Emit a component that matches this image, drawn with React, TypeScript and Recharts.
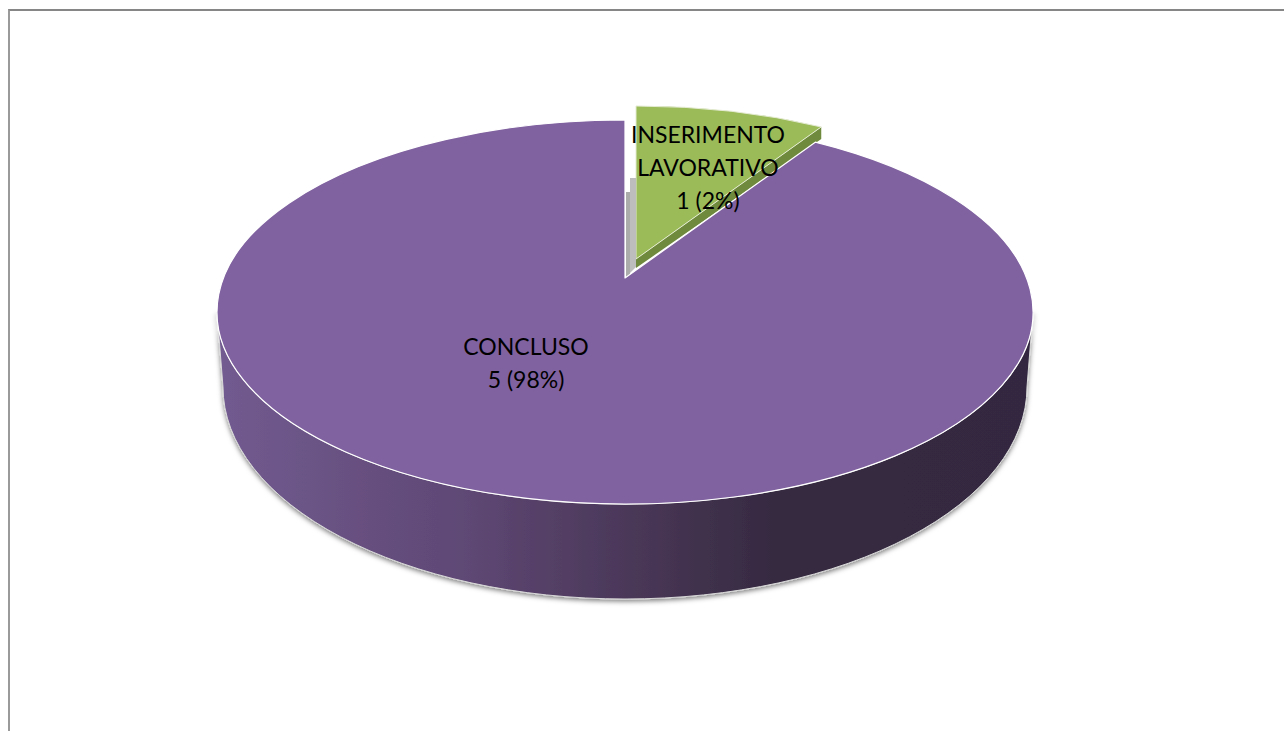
import React from "react";
import { PieChart, Pie } from "recharts";

const categories = ["INSERIMENTO LAVORATIVO", "CONCLUSO"];
const sliceShares = [7.5, 92.5];
const valueTexts = ["1 (2%)", "5 (98%)"];
const labelLines = [["INSERIMENTO", "LAVORATIVO", "1 (2%)"], ["CONCLUSO", "5 (98%)"]];

const data = categories.map((name, i) => ({ name, value: sliceShares[i], text: valueTexts[i], lines: labelLines[i] }));

const W = 1284, H = 731;
const CX = 625, CY = 312, R = 408;
const RY = 192;
const RAD = Math.PI / 180;
const APEX_UP = 34;
const EXPLODE_GAP_DEG = 0.8;
const FONT = "Lato, 'Open Sans', sans-serif";

function ellipsePt(cx: number, cy: number, a: number) {
  return [cx + R * Math.cos(a * RAD), cy - RY * Math.sin(a * RAD)];
}

function SliceShape(props: any) {
  const { cx, cy, startAngle, endAngle, payload } = props;
  const isGreen = (payload?.name ?? props.name) === categories[0];
  if (isGreen) {
    const ox = cx + 11, oy = cy - 14;
    const [x1, y1] = ellipsePt(ox, oy, startAngle);
    const [x2, y2] = ellipsePt(ox, oy, endAngle);
    const ax = ox, ay = cy - 53;
    return (
      <g>
        <path d={`M${x2},${y2} L${x2},${y2 + 12} L${ax},${ay + 9} L${ax},${ay} Z`} fill="#6F8A3D" />
        <path
          d={`M${ax},${ay} L${x1},${y1} A${R},${RY} 0 0 1 ${x2},${y2} Z`}
          fill="#9BBB59"
          stroke="#E4EBD2"
          strokeWidth={1}
        />
      </g>
    );
  }
  const [x1, y1] = ellipsePt(cx, cy, startAngle - EXPLODE_GAP_DEG);
  const [x2, y2] = ellipsePt(cx, cy, endAngle);
  const ax = cx, ay = cy - APEX_UP;
  return (
    <g>
      <path
        d={`M${cx - R},${cy} A${R},${RY} 0 0 0 ${cx + R},${cy} L${cx + 402},${cy + 75} A402,212 0 0 1 ${cx - 402},${cy + 75} Z`}
        fill="url(#wallGrad)"
        stroke="#D8D8D8"
        strokeWidth={1}
        filter="url(#softShadow)"
      />
      <path d={`M${cx + 1},${cy - 120} L${cx + 5},${cy - 120} L${cx + 5},${cy - 38} L${cx + 1},${cy - 34} Z`} fill="#ABABAB" />
      <path d={`M${cx + 5},${cy - 134} L${cx + 11},${cy - 134} L${cx + 11},${cy - 45} L${cx + 5},${cy - 39} Z`} fill="#BDBDBD" />
      <path
        d={`M${ax},${ay} L${x1},${y1} A${R},${RY} 0 1 1 ${x2},${y2} Z`}
        fill="#8062A0"
        stroke="#FFFFFF"
        strokeWidth={1.2}
        strokeLinejoin="round"
      />
    </g>
  );
}

const labelCentres: Record<string, [number, number]> = {
  [categories[0]]: [83, -169],
  [categories[1]]: [-99, 43],
};

function renderLabel(props: any) {
  const { cx, cy, payload, name } = props;
  const key = payload?.name ?? name;
  const row = data.find((d) => d.name === key) ?? data[0];
  const [dx, dy] = labelCentres[row.name];
  return (
    <text x={cx + dx} y={cy + dy} textAnchor="middle" fontFamily={FONT} fontSize={23} fill="#000000">
      {row.lines.map((l, i) => (
        <tspan key={i} x={cx + dx} dy={i === 0 ? 0 : 33}>
          {l}
        </tspan>
      ))}
    </text>
  );
}

export default function App() {
  return (
    <div style={{ position: "absolute", left: 0, top: 0, width: W, height: H, overflow: "hidden", background: "#fff" }}>
      <div
        style={{
          position: "absolute",
          left: 8,
          top: 9,
          width: W,
          height: H,
          borderTop: "2px solid #868686",
          borderLeft: "2px solid #9a9a9a",
        }}
      />
      <div style={{ position: "absolute", left: 0, top: 0 }}>
        <PieChart width={W} height={H} margin={{ top: 0, right: 0, bottom: 0, left: 0 }}>
          <defs>
            <linearGradient id="wallGrad" gradientUnits="userSpaceOnUse" x1={CX - R} y1={0} x2={CX + R} y2={0}>
              <stop offset="0" stopColor="#725B90" />
              <stop offset="0.3" stopColor="#5F4875" />
              <stop offset="0.5" stopColor="#4B3859" />
              <stop offset="0.68" stopColor="#362A41" />
              <stop offset="1" stopColor="#332840" />
            </linearGradient>
            <filter id="softShadow" x="-5%" y="-5%" width="110%" height="115%">
              <feDropShadow dx={0} dy={2} stdDeviation={2.5} floodColor="#000000" floodOpacity={0.5} />
            </filter>
          </defs>
          <Pie
            data={data}
            dataKey="value"
            nameKey="name"
            cx={CX}
            cy={CY}
            innerRadius={0}
            outerRadius={R}
            startAngle={90}
            endAngle={-270}
            stroke="none"
            isAnimationActive={false}
            shape={SliceShape}
            label={renderLabel}
            labelLine={false}
          />
        </PieChart>
      </div>
    </div>
  );
}
